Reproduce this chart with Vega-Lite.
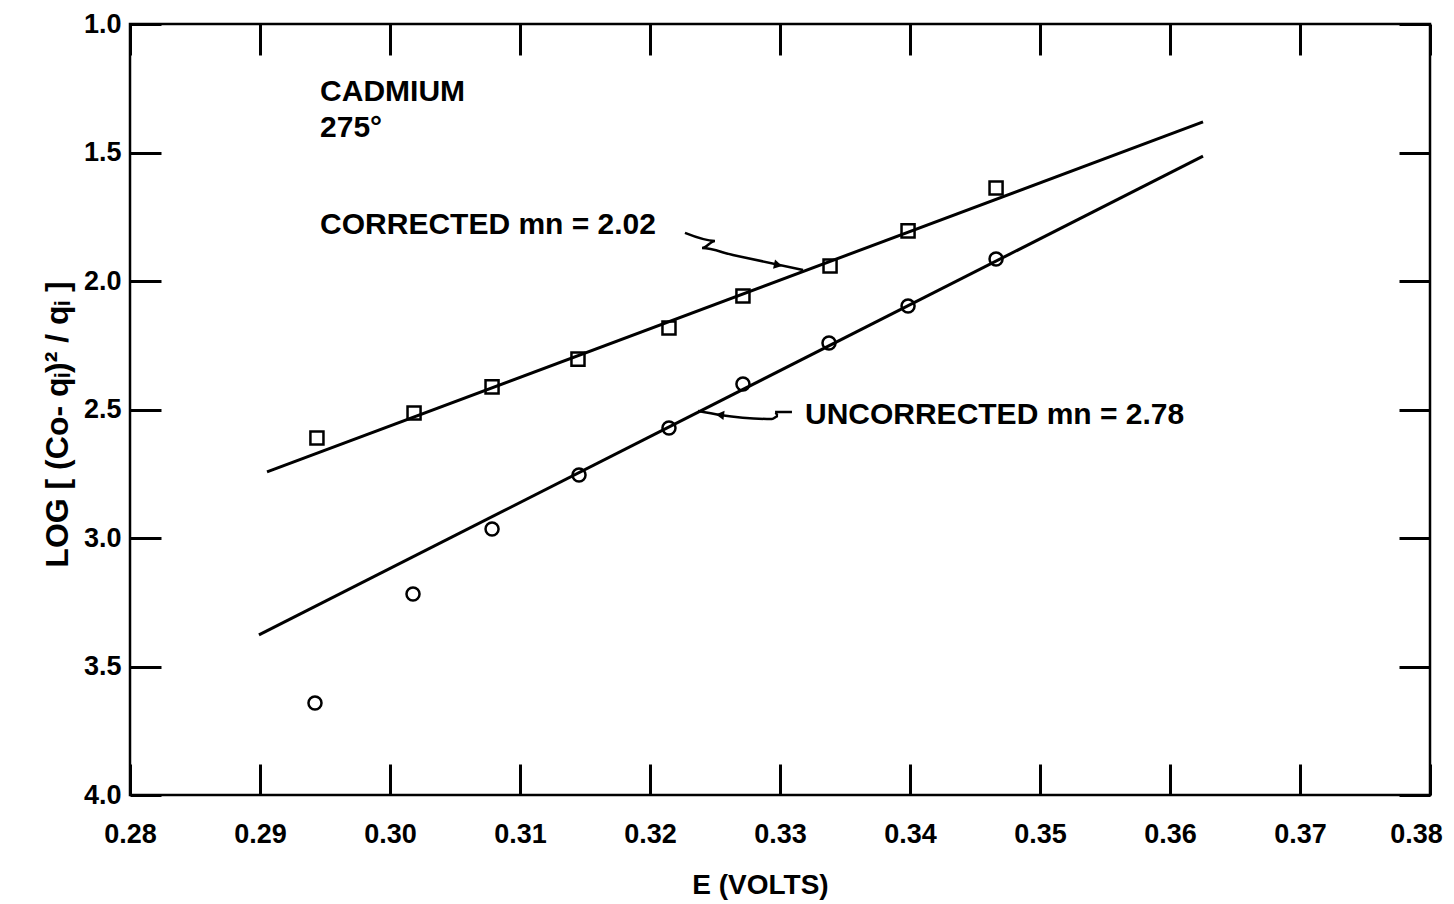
{
  "$schema": "https://vega.github.io/schema/vega-lite/v6.json",
  "width": 1300,
  "height": 771,
  "autosize": "none",
  "padding": {"left": 130, "top": 24, "right": 24, "bottom": 109},
  "background": "white",
  "config": {
    "font": "Liberation Sans",
    "view": {"stroke": "black", "strokeWidth": 2.5},
    "axis": {
      "grid": false,
      "domain": false,
      "tickColor": "black",
      "tickWidth": 3,
      "tickSize": -31,
      "labelFlush": false,
      "labelColor": "black",
      "labelFont": "Liberation Sans",
      "labelFontSize": 27,
      "labelFontWeight": "bold",
      "titleColor": "black",
      "titleFont": "Liberation Sans",
      "titleFontSize": 28,
      "titleFontWeight": "bold"
    }
  },
  "datasets": {
    "pts": [
      {"series": "corrected", "E": 0.29438, "logv": 2.611},
      {"series": "corrected", "E": 0.30185, "logv": 2.514},
      {"series": "corrected", "E": 0.30785, "logv": 2.412},
      {"series": "corrected", "E": 0.31446, "logv": 2.304},
      {"series": "corrected", "E": 0.32146, "logv": 2.183},
      {"series": "corrected", "E": 0.32715, "logv": 2.058},
      {"series": "corrected", "E": 0.33385, "logv": 1.942},
      {"series": "corrected", "E": 0.33985, "logv": 1.805},
      {"series": "corrected", "E": 0.34662, "logv": 1.638},
      {"series": "uncorrected", "E": 0.29423, "logv": 3.642},
      {"series": "uncorrected", "E": 0.30177, "logv": 3.218},
      {"series": "uncorrected", "E": 0.30785, "logv": 2.965},
      {"series": "uncorrected", "E": 0.31454, "logv": 2.755},
      {"series": "uncorrected", "E": 0.32146, "logv": 2.572},
      {"series": "uncorrected", "E": 0.32715, "logv": 2.401},
      {"series": "uncorrected", "E": 0.33377, "logv": 2.241},
      {"series": "uncorrected", "E": 0.33985, "logv": 2.097},
      {"series": "uncorrected", "E": 0.34662, "logv": 1.914}
    ],
    "fits": [
      {"series": "corrected", "E": 0.29054, "logv": 2.743},
      {"series": "corrected", "E": 0.36254, "logv": 1.381},
      {"series": "uncorrected", "E": 0.28992, "logv": 3.377},
      {"series": "uncorrected", "E": 0.36254, "logv": 1.514}
    ],
    "arrows": [
      {"id": "c", "ord": 1, "E": 0.32269, "logv": 1.813},
      {"id": "c", "ord": 2, "E": 0.32500, "logv": 1.844},
      {"id": "c", "ord": 3, "E": 0.32400, "logv": 1.872},
      {"id": "c", "ord": 4, "E": 0.32638, "logv": 1.899},
      {"id": "c", "ord": 5, "E": 0.33177, "logv": 1.957},
      {"id": "u", "ord": 1, "E": 0.33092, "logv": 2.510},
      {"id": "u", "ord": 2, "E": 0.32962, "logv": 2.510},
      {"id": "u", "ord": 3, "E": 0.32985, "logv": 2.525},
      {"id": "u", "ord": 4, "E": 0.32938, "logv": 2.537},
      {"id": "u", "ord": 5, "E": 0.32538, "logv": 2.521},
      {"id": "u", "ord": 6, "E": 0.32369, "logv": 2.506}
    ],
    "heads": [
      {"E": 0.32985, "logv": 1.938, "ang": 12},
      {"E": 0.32538, "logv": 2.521, "ang": 187}
    ],
    "notes": [
      {"text": "CADMIUM", "E": 0.29462, "logv": 1.265},
      {"text": "275°", "E": 0.29462, "logv": 1.405},
      {"text": "CORRECTED mn = 2.02", "E": 0.29462, "logv": 1.783},
      {"text": "UNCORRECTED mn = 2.78", "E": 0.33192, "logv": 2.521}
    ]
  },
  "layer": [
    {
      "data": {"name": "pts"},
      "mark": {"type": "point", "filled": false, "stroke": "black", "strokeWidth": 2.5, "size": 170, "opacity": 1},
      "encoding": {
        "x": {
          "field": "E", "type": "quantitative",
          "scale": {"domain": [0.28, 0.38], "nice": false, "zero": false},
          "axis": {
            "orient": "bottom", "values": [0.28, 0.29, 0.30, 0.31, 0.32, 0.33, 0.34, 0.35, 0.36, 0.37, 0.38],
            "format": ".2f", "labelPadding": 57, "labelBaseline": "top",
            "labelOffset": {"condition": {"test": "datum.value > 0.375", "value": -14}, "value": 0},
            "title": "E (VOLTS)", "titleX": 630, "titleY": 90, "titleBaseline": "middle", "titleAlign": "center"
          }
        },
        "y": {
          "field": "logv", "type": "quantitative",
          "scale": {"domain": [1, 4], "reverse": true, "nice": false, "zero": false},
          "axis": {
            "orient": "left", "values": [1.0, 1.5, 2.0, 2.5, 3.0, 3.5, 4.0],
            "format": ".1f", "labelPadding": 40,
            "title": "LOG [ (Co- qᵢ)² / qᵢ ]", "titleX": -73, "titleY": 400, "titleAngle": 270,
            "titleFontSize": 32, "titleBaseline": "middle", "titleAlign": "center"
          }
        },
        "shape": {
          "field": "series", "type": "nominal",
          "scale": {"domain": ["corrected", "uncorrected"], "range": ["square", "circle"]},
          "legend": null
        }
      }
    },
    {
      "data": {"name": "fits"},
      "mark": {"type": "line", "color": "black", "strokeWidth": 3},
      "encoding": {
        "x": {
          "field": "E", "type": "quantitative",
          "axis": {"orient": "top", "values": [0.28, 0.29, 0.30, 0.31, 0.32, 0.33, 0.34, 0.35, 0.36, 0.37, 0.38], "labels": false, "title": null}
        },
        "y": {
          "field": "logv", "type": "quantitative",
          "axis": {"orient": "right", "values": [1.0, 1.5, 2.0, 2.5, 3.0, 3.5, 4.0], "labels": false, "title": null}
        },
        "detail": {"field": "series", "type": "nominal"}
      }
    },
    {
      "data": {"name": "arrows"},
      "mark": {"type": "line", "color": "black", "strokeWidth": 2.5, "interpolate": "monotone"},
      "encoding": {
        "x": {"field": "E", "type": "quantitative", "axis": null},
        "y": {"field": "logv", "type": "quantitative", "axis": null},
        "detail": {"field": "id", "type": "nominal"},
        "order": {"field": "ord", "type": "quantitative"}
      }
    },
    {
      "data": {"name": "heads"},
      "mark": {"type": "point", "shape": "triangle-right", "filled": true, "color": "black", "size": 90, "opacity": 1},
      "encoding": {
        "x": {"field": "E", "type": "quantitative", "axis": null},
        "y": {"field": "logv", "type": "quantitative", "axis": null},
        "angle": {"field": "ang", "type": "quantitative", "scale": null}
      }
    },
    {
      "data": {"name": "notes"},
      "mark": {"type": "text", "align": "left", "baseline": "middle", "font": "Liberation Sans", "fontSize": 30, "fontWeight": "bold", "color": "black"},
      "encoding": {
        "x": {"field": "E", "type": "quantitative", "axis": null},
        "y": {"field": "logv", "type": "quantitative", "axis": null},
        "text": {"field": "text", "type": "nominal"}
      }
    }
  ],
  "resolve": {"axis": {"x": "independent", "y": "independent"}}
}
